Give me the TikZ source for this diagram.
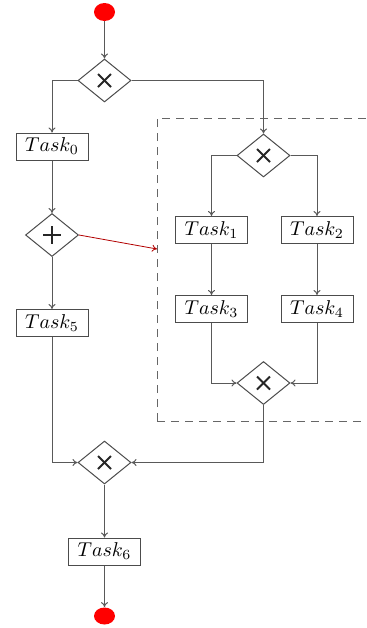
\documentclass[tikz,border=0pt]{standalone}
\usetikzlibrary{shapes.geometric,arrows.meta}
\begin{document}
\begin{tikzpicture}[x=0.5pt,y=-0.5pt,
  line/.style={draw=black!65, line width=0.5pt},
  flow/.style={line, -{To[length=2.5pt,width=3.5pt]}},
  taskbox/.style={draw=black!70, line width=0.5pt, fill=white, minimum width=36pt, minimum height=13.5pt, inner sep=0pt},
  gate/.style={draw=black!70, line width=0.5pt, diamond, fill=white, minimum width=26.5pt, minimum height=21.5pt, inner sep=0pt},
  term/.style={ellipse, fill=red, draw=none, minimum width=10.5pt, minimum height=9pt, inner sep=0pt},
  xmark/.style={line width=0.9pt, black!85},
]
\useasboundingbox (0,0) rectangle (366,628);
\begin{scope}
\clip (0,0) rectangle (366,628);
\draw[dashed, draw=black!60, line width=0.5pt, dash pattern=on 4pt off 3pt] (157,421) -- (157,118) -- (372,118);
\draw[dashed, draw=black!60, line width=0.5pt, dash pattern=on 4pt off 3pt] (157,421) -- (372,421);
\end{scope}
\coordinate (boxleft) at (157,249);

\node[term] (start) at (104.5,12) {};
\node[gate] (g1) at (104.5,80.5) {};
\node[taskbox] (t0) at (52,146.5) {$Task_0$};
\node[gate] (gp) at (52,235) {};
\node[taskbox] (t5) at (52,323) {$Task_5$};
\node[gate] (g2) at (263.5,155.5) {};
\node[taskbox] (t1) at (211.5,230) {$Task_1$};
\node[taskbox] (t2) at (317,230) {$Task_2$};
\node[taskbox] (t3) at (211.5,309) {$Task_3$};
\node[taskbox] (t4) at (317,309) {$Task_4$};
\node[gate] (g3) at (263.5,383) {};
\node[gate] (g4) at (104.5,462.5) {};
\node[taskbox] (t6) at (104.5,551.5) {$Task_6$};
\node[term, minimum height=8.5pt] (end) at (104.5,616) {};

% gateway symbols
\foreach \g in {g1,g2,g3,g4}{
  \draw[xmark] ([shift={(-6.5,-6.5)}]\g.center) -- ([shift={(6.5,6.5)}]\g.center);
  \draw[xmark] ([shift={(-6.5,6.5)}]\g.center) -- ([shift={(6.5,-6.5)}]\g.center);
}
\draw[line width=1.1pt, black!85] ([shift={(-9,0)}]gp.center) -- ([shift={(9,0)}]gp.center);
\draw[line width=1.1pt, black!85] ([shift={(0,-9)}]gp.center) -- ([shift={(0,9)}]gp.center);

% connectors
\draw[flow] (start) -- (g1);
\draw[flow] (g1.west) -| (t0.north);
\draw[flow] (g1.east) -| (g2.north);
\draw[flow] (t0) -- (gp);
\draw[flow] (gp) -- (t5);
\draw[flow] (g2.west) -| (t1.north);
\draw[flow] (g2.east) -| (t2.north);
\draw[flow] (t1) -- (t3);
\draw[flow] (t2) -- (t4);
\draw[flow] (t3.south) |- (g3.west);
\draw[flow] (t4.south) |- (g3.east);
\draw[flow] (g3.south) |- (g4.east);
\draw[flow] (t5.south) |- (g4.west);
\draw[flow] (g4) -- (t6);
\draw[flow] (t6) -- (end);
\draw[draw=red!70!black, line width=0.4pt, -{To[length=2.5pt,width=3.5pt]}] (gp.east) -- (boxleft);
\end{tikzpicture}
\end{document}
